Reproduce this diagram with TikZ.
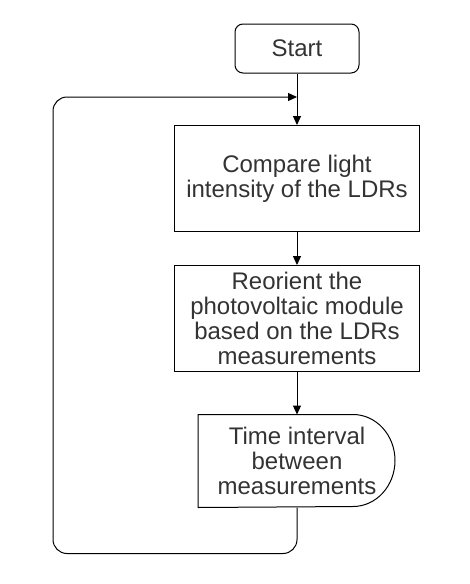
\documentclass[tikz,border=0pt]{standalone}
\usepackage{fontspec}
\setmainfont{Liberation Sans}
\usetikzlibrary{arrows.meta}
\begin{document}
\begin{tikzpicture}[x=1pt,y=-1pt,line width=1pt,
    every node/.style={font=\fontsize{24}{25}\selectfont,text=black!80,align=center},
    startbox/.style={draw,rounded corners=8pt,minimum width=124pt,minimum height=49pt},
    procbox/.style={draw,minimum width=245pt,minimum height=106pt},
    flow/.style={-{Triangle[length=9pt,width=8pt]}}]
  \useasboundingbox (0,0) rectangle (470,584);
  \draw
    (297,48.5) node[startbox] (start){Start}
    (297,178.5) node[procbox] (cmp){Compare light\\intensity of the LDRs}
    (297,318.5) node[procbox] (reo){Reorient the\\photovoltaic module\\based on the LDRs\\measurements}
    (297,461) node[minimum width=197pt,minimum height=92pt] (delay){Time interval\\between\\measurements};
  \draw (delay.south west) -- (delay.north west) -- ++(155,0)
    arc[start angle=90,end angle=-90,x radius=42pt,y radius=46pt] -- cycle;
  \coordinate (join) at (297,97);
  \begin{scope}[flow]
    \draw (start) to (cmp);
    \draw (cmp) to (reo);
    \draw (reo) to (delay);
    \draw[rounded corners=14pt] (delay.south) -- ++(0,46) -| (53,97) -- (join);
  \end{scope}
\end{tikzpicture}
\end{document}
